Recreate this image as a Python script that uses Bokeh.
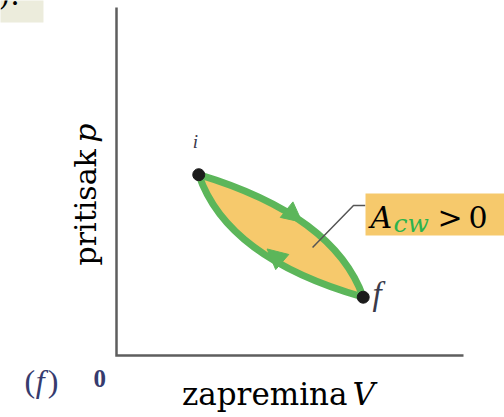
import math
from bokeh.plotting import figure
from bokeh.models import Range1d, Label, Arrow, NormalHead, BoxAnnotation
from bokeh.embed import file_html
from bokeh.resources import INLINE

# ---- data (arbitrary units: volume V, pressure p) ----
state_names = ["i", "f"]
state_v = [2.37, 7.11]
state_p = [5.21, 1.68]

# control points of the two process curves (i -> f upper, f -> i lower)
ctrl_upper = [6.26, 4.04]
ctrl_lower = [3.18, 2.80]

# enclosed area outline
lens_v = [2.37, 3.08, 3.86, 4.52, 5.01, 5.68, 6.17, 6.54, 6.83, 7.11,
          6.54, 5.97, 5.22, 4.44, 3.78, 3.20, 2.71]
lens_p = [5.21, 4.90, 4.61, 4.32, 4.09, 3.60, 3.17, 2.68, 2.22, 1.68,
          1.93, 2.10, 2.39, 2.80, 3.26, 3.83, 4.52]

# direction arrows on the curves (start -> tip)
arrow_v0 = [4.87, 4.78]
arrow_p0 = [4.23, 2.69]
arrow_v1 = [5.35, 4.34]
arrow_p1 = [3.84, 3.07]

# leader line to the annotation
leader_v = [5.65, 6.83, 7.17]
leader_p = [3.11, 4.32, 4.32]

# axes extent (V axis and p axis)
axis_v = [0, 0, 10.0]
axis_p = [10.03, 0, 0]

GREEN = "#5cb65a"
FILL = "#f6c96c"
AXIS = "#5e5e5e"
NAVY = "#363b6e"
SCALE = 34.7  # pixels per unit
SHIFT = 0.34  # baseline correction, fraction of font size

p = figure(width=504, height=417, output_backend="svg", toolbar_location=None,
           x_range=Range1d(-116 / SCALE, (504 - 116) / SCALE),
           y_range=Range1d(-(417 - 355) / SCALE, 355 / SCALE),
           min_border=0)
p.axis.visible = False
p.grid.visible = False
p.outline_line_color = None
p.background_fill_color = "white"
p.border_fill_color = "white"

# axes
p.line(axis_v, axis_p, line_color=AXIS, line_width=2.5, line_join="miter")

# filled enclosed area
p.patch(lens_v, lens_p, fill_color=FILL, line_color=None)

# process curves
p.quadratic(x0=[state_v[0]], y0=[state_p[0]], x1=[state_v[1]], y1=[state_p[1]],
            cx=[ctrl_upper[0]], cy=[ctrl_upper[1]],
            line_color=GREEN, line_width=7, line_cap="round")
p.quadratic(x0=[state_v[1]], y0=[state_p[1]], x1=[state_v[0]], y1=[state_p[0]],
            cx=[ctrl_lower[0]], cy=[ctrl_lower[1]],
            line_color=GREEN, line_width=7, line_cap="round")

# leader line
p.line(leader_v, leader_p, line_color="#555555", line_width=1.5)

# state points
p.scatter(state_v, state_p, size=12, fill_color="#1b1b1b", line_color="#1b1b1b")

# arrows
for k in range(2):
    p.add_layout(Arrow(end=NormalHead(size=20, fill_color=GREEN, line_color=GREEN),
                       x_start=arrow_v0[k], y_start=arrow_p0[k],
                       x_end=arrow_v1[k], y_end=arrow_p1[k],
                       line_alpha=0))

# annotation box
p.add_layout(BoxAnnotation(left=7.176, right=11.5, bottom=3.458, top=4.669,
                           fill_color=FILL, fill_alpha=1, line_color=None))
# top-left fragment box
p.add_layout(BoxAnnotation(left=-3.6, right=-2.104, bottom=9.597, top=10.6,
                           fill_color="#ececdc", fill_alpha=1, line_color=None))


def lab(text, x, y, size, font="DejaVu Serif", style="normal", color="black",
        align="left", angle=0.0):
    d = SHIFT * size / SCALE
    if angle:
        x -= d
    else:
        y += d
    p.add_layout(Label(x=x, y=y, text=text, text_font=font, text_font_style=style,
                       text_font_size=f"{size}px", text_color=color,
                       text_align=align, text_baseline="alphabetic", angle=angle))


lab(").", -3.40, 10.115, 30)

# axis titles
lab("zapremina", 6.657, -1.412, 31, align="right")
lab("V", 6.80, -1.412, 31, style="italic")
lab("pritisak", -0.60, 2.594, 30, angle=math.pi / 2)
lab("p", -0.60, 6.686, 30, style="italic", align="right", angle=math.pi / 2)

# state labels
lab(state_names[0], 2.277, 5.994, 19, font="Liberation Serif", style="italic",
    color="#3a3a4a", align="center")
lab(state_names[1], 7.378, 1.441, 33, font="Liberation Serif", style="italic",
    color="#3a3a4a")

# corner labels
lab("(", -2.65, -1.037, 32, font="Liberation Serif", color=NAVY)
lab("f", -2.33, -1.037, 32, font="Liberation Serif", style="italic", color=NAVY)
lab(")", -1.98, -1.037, 32, font="Liberation Serif", color=NAVY)
lab("0", -0.663, -0.922, 25, font="Liberation Serif", style="bold", color=NAVY)

# A_cw > 0
lab("A", 7.32, 3.689, 30, style="italic")
lab("cw", 7.983, 3.545, 25, style="italic", color="#2db34d")
lab(">", 9.25, 3.689, 30)
lab("0", 10.144, 3.689, 30)

open("out.html", "w").write(file_html(p, INLINE))
